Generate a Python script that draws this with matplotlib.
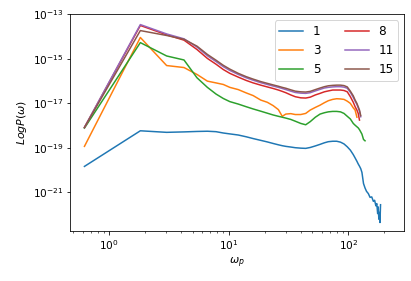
import matplotlib
matplotlib.use('Agg')
import matplotlib.pyplot as plt
import matplotlib.ticker as mticker
import numpy as np

# frequency grid
omega = [0.62, 1.82, 3.02, 4.22, 5.42, 6.62, 7.82, 9.0, 10.2, 12, 14, 16, 18.5, 21,
         23.5, 26, 28, 30, 33, 36, 40, 44, 48, 53, 58, 63, 68, 74, 80, 86, 92, 98,
         104, 110, 114, 118, 121, 124, 127, 130, 134, 138, 142, 147, 152, 157, 162,
         166, 170, 173, 176, 178, 180, 182, 184, 186]

# log10 P(omega) for each series
logp_1 = [-19.83, -18.23, -18.30, -18.28, -18.26, -18.25, -18.27, -18.33, -18.37, -18.42,
          -18.50, -18.58, -18.66, -18.73, -18.80, -18.86, -18.90, -18.93, -18.96, -18.99,
          -19.01, -19.02, -18.98, -18.91, -18.84, -18.77, -18.72, -18.70, -18.70, -18.74,
          -18.82, -18.95, -19.10, -19.30, -19.45, -19.60, -19.72, -19.82, -19.93, -20.10,
          -20.60, -20.80, -20.95, -21.05, -21.22, -21.20, -21.40, -21.35, -21.60, -21.50,
          -21.95, -21.65, -22.20, -21.90, -22.35, -21.55]
logp_3 = [-18.93, -14.04, -15.30, -15.39, -15.70, -16.00, -16.08, -16.15, -16.28, -16.38,
          -16.53, -16.65, -16.85, -16.95, -17.10, -17.28, -17.58, -17.48, -17.46, -17.50,
          -17.50, -17.45, -17.30, -17.18, -17.08, -16.97, -16.88, -16.82, -16.79, -16.80,
          -16.82, -16.90, -17.00, -17.20, -17.30, -17.62]
logp_5 = [-18.11, -14.27, -14.87, -15.05, -15.85, -16.28, -16.58, -16.78, -16.92, -17.03,
          -17.15, -17.25, -17.35, -17.44, -17.52, -17.58, -17.62, -17.66, -17.72, -17.80,
          -17.90, -17.96, -17.82, -17.62, -17.48, -17.42, -17.38, -17.36, -17.36, -17.38,
          -17.45, -17.58, -17.70, -17.90, -17.98, -18.05, -18.10, -18.18, -18.28, -18.38,
          -18.62, -18.68]
logp_8 = [-18.08, -13.50, -13.92, -14.16, -14.58, -14.98, -15.24, -15.48, -15.65, -15.82,
          -15.97, -16.08, -16.18, -16.26, -16.33, -16.40, -16.46, -16.52, -16.62, -16.70,
          -16.75, -16.76, -16.72, -16.62, -16.55, -16.48, -16.44, -16.40, -16.40, -16.40,
          -16.42, -16.48, -16.70, -16.95, -17.15, -17.30, -17.45, -17.75]
logp_11 = [-18.08, -13.46, -13.88, -14.10, -14.47, -14.86, -15.12, -15.35, -15.52, -15.70,
           -15.85, -15.96, -16.07, -16.15, -16.22, -16.28, -16.33, -16.38, -16.45, -16.51,
           -16.54, -16.55, -16.52, -16.44, -16.37, -16.31, -16.28, -16.26, -16.25, -16.25,
           -16.27, -16.32, -16.50, -16.73, -16.90, -17.05, -17.20, -17.35, -17.60]
logp_15 = [-18.08, -13.73, -13.95, -14.12, -14.43, -14.80, -15.06, -15.29, -15.46, -15.65,
           -15.80, -15.91, -16.02, -16.10, -16.17, -16.23, -16.28, -16.32, -16.39, -16.45,
           -16.48, -16.49, -16.46, -16.38, -16.31, -16.25, -16.21, -16.19, -16.18, -16.18,
           -16.20, -16.26, -16.45, -16.66, -16.85, -17.00, -17.15, -17.30, -17.55]

labels = ['1', '3', '5', '8', '11', '15']
series = [logp_1, logp_3, logp_5, logp_8, logp_11, logp_15]
ytick_exp = [-21, -19, -17, -15, -13]

fig = plt.figure(figsize=(411/72, 281/72), dpi=72)
ax = fig.add_axes([0.171, 0.178, 0.8127, 0.771])

for lab, vals in zip(labels, series):
    n = len(vals)
    ax.plot(omega[:n], 10**np.array(vals), label=lab, lw=1.5)

ax.set_xscale('log')
ax.set_yscale('log')
ax.set_xlim(0.472, 294)
ax.set_ylim(10**-22.73, 1e-13)
ax.yaxis.set_major_locator(mticker.FixedLocator([10.0**e for e in ytick_exp]))
ax.yaxis.set_minor_locator(mticker.NullLocator())
ax.tick_params(labelsize=10.5)

ax.set_xlabel(r'$\omega_p$', fontsize=11)
ax.set_ylabel(r'$LogP(\omega)$', fontsize=11)
ax.legend(loc='upper right', ncol=2, fontsize=12)

fig.savefig('out.png', dpi=72)
